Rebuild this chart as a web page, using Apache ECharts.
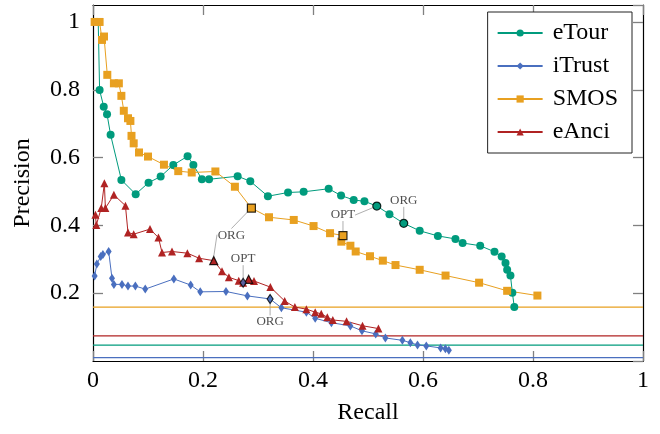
<!DOCTYPE html>
<html>
<head>
<meta charset="utf-8">
<script src="https://cdn.jsdelivr.net/npm/echarts@6/dist/echarts.min.js"></script>
<style>
html, body { margin: 0; padding: 0; background: #fff; }
#chart { width: 660px; height: 434px; }
</style>
</head>
<body>
<div id="chart"></div>
<script>
var names = ['eTour', 'iTrust', 'SMOS', 'eAnci'];

var eTourRecall = [0.0095, 0.012, 0.0195, 0.0255, 0.032, 0.0516, 0.0776, 0.101, 0.123, 0.146, 0.172, 0.1825, 0.198, 0.211, 0.263, 0.286, 0.318, 0.3546, 0.383, 0.4285, 0.451, 0.474, 0.4935, 0.516, 0.539, 0.565, 0.594, 0.627, 0.659, 0.672, 0.704, 0.730, 0.743, 0.750, 0.753, 0.759, 0.7625, 0.766];
var eTourPrecision = [1.0, 0.799, 0.750, 0.728, 0.667, 0.534, 0.492, 0.526, 0.544, 0.578, 0.604, 0.578, 0.536, 0.536, 0.545, 0.530, 0.486, 0.497, 0.499, 0.508, 0.488, 0.475, 0.471, 0.457, 0.433, 0.406, 0.384, 0.369, 0.360, 0.348, 0.340, 0.322, 0.308, 0.289, 0.269, 0.252, 0.201, 0.159];

var iTrustRecall = [0.003, 0.007, 0.014, 0.018, 0.0285, 0.0345, 0.038, 0.0527, 0.0636, 0.077, 0.095, 0.147, 0.1776, 0.195, 0.2418, 0.2807, 0.322, 0.3425, 0.388, 0.404, 0.4335, 0.468, 0.489, 0.514, 0.5316, 0.5625, 0.577, 0.59, 0.606, 0.632, 0.6407, 0.647];
var iTrustPrecision = [0.251, 0.286, 0.308, 0.314, 0.323, 0.244, 0.226, 0.226, 0.221, 0.221, 0.212, 0.242, 0.224, 0.204, 0.205, 0.192, 0.183, 0.157, 0.144, 0.126, 0.113, 0.1035, 0.089, 0.080, 0.068, 0.061, 0.054, 0.0475, 0.0445, 0.0386, 0.036, 0.032];

var smosRecall = [0.003, 0.012, 0.0164, 0.02, 0.026, 0.038, 0.047, 0.0516, 0.056, 0.0636, 0.068, 0.07, 0.074, 0.0836, 0.1, 0.129, 0.155, 0.1795, 0.2225, 0.258, 0.288, 0.32, 0.365, 0.401, 0.431, 0.4545, 0.4515, 0.468, 0.4776, 0.5036, 0.527, 0.55, 0.594, 0.641, 0.702, 0.753, 0.808];
var smosPrecision = [1.0, 1.0, 0.947, 0.957, 0.844, 0.819, 0.819, 0.782, 0.738, 0.716, 0.708, 0.664, 0.642, 0.615, 0.603, 0.579, 0.560, 0.556, 0.559, 0.514, 0.451, 0.424, 0.416, 0.398, 0.377, 0.370, 0.352, 0.340, 0.323, 0.309, 0.296, 0.283, 0.269, 0.252, 0.231, 0.207, 0.193];

var eAnciRecall = [0.0044, 0.006, 0.015, 0.0207, 0.0225, 0.038, 0.059, 0.0636, 0.074, 0.1036, 0.119, 0.1255, 0.1436, 0.1716, 0.193, 0.2195, 0.2345, 0.247, 0.265, 0.273, 0.283, 0.2927, 0.3225, 0.3485, 0.367, 0.388, 0.404, 0.415, 0.426, 0.436, 0.461, 0.490, 0.519];
var eAnciPrecision = [0.431, 0.401, 0.451, 0.524, 0.451, 0.490, 0.458, 0.379, 0.374, 0.389, 0.364, 0.320, 0.323, 0.318, 0.303, 0.296, 0.265, 0.247, 0.237, 0.231, 0.241, 0.236, 0.218, 0.177, 0.159, 0.153, 0.144, 0.139, 0.129, 0.121, 0.117, 0.104, 0.0956];

// random-guess precision of each project (same order as names)
var baselines = [0.047, 0.010, 0.159, 0.074];

// ORG / OPT points
var markSeries = [0, 0, 2, 2, 3, 3, 1, 1];
var markRecall = [0.565, 0.516, 0.4545, 0.288, 0.2195, 0.283, 0.273, 0.322];
var markPrecision = [0.406, 0.457, 0.370, 0.451, 0.296, 0.241, 0.231, 0.183];
var markText = ['ORG', 'OPT', 'OPT', 'ORG', 'ORG', '', 'OPT', 'ORG'];

var xMin = 0, xMax = 1;

var colors = ['#009B7D', '#4A6FBF', '#E8A020', '#B02323'];
var symbols = ['circle', 'diamond', 'rect', 'triangle'];
var symSizes = [8, [6, 9], 8, 8];
// label offset from its point, px; ghost = only draw the pin, text is drawn by another point
var pins = [
    {dx: 0, dy: -23}, {dx: -34, dy: 9, ghost: true}, {dx: 0, dy: -21}, {dx: -20, dy: 27},
    {dx: 17, dy: -26, ghost: true}, null, {dx: 0, dy: -24}, {dx: 0, dy: 23}
];
var font = 'Liberation Serif';

var curves = [
    [eTourRecall, eTourPrecision],
    [iTrustRecall, iTrustPrecision],
    [smosRecall, smosPrecision],
    [eAnciRecall, eAnciPrecision]
];

var series = [];
// baselines first so they sit under the curves
for (var b = 0; b < baselines.length; b++) {
    series.push({
        type: 'line',
        data: [[xMin, baselines[b]], [xMax, baselines[b]]],
        symbol: 'none',
        silent: true,
        lineStyle: {color: colors[b], width: 1.2},
        z: 2
    });
}
for (var i = 0; i < names.length; i++) {
    var pts = [];
    for (var j = 0; j < curves[i][0].length; j++) pts.push([curves[i][0][j], curves[i][1][j]]);
    series.push({
        name: names[i],
        type: 'line',
        data: pts,
        symbol: symbols[i],
        symbolSize: symSizes[i],
        showAllSymbol: true,
        color: colors[i],
        lineStyle: {width: 1, color: colors[i]},
        itemStyle: {color: colors[i]},
        z: 3
    });
}

for (var k = 0; k < markSeries.length; k++) {
    var s = markSeries[k];
    var pin = pins[k];
    series.push({
        type: 'scatter',
        data: [[markRecall[k], markPrecision[k]]],
        symbol: symbols[s],
        symbolSize: symSizes[s],
        itemStyle: {color: colors[s], borderColor: '#000', borderWidth: 1.2},
        z: 5,
        label: pin ? {
            show: true,
            position: 'inside',
            formatter: markText[k] || ' ',
            fontFamily: font,
            fontSize: 13,
            color: pin.ghost ? 'rgba(0,0,0,0)' : '#222'
        } : {show: false},
        labelLayout: pin ? {dx: pin.dx, dy: pin.dy} : undefined,
        labelLine: pin ? {show: true, lineStyle: {color: '#999', width: 0.8}} : undefined
    });
}

function axisLine() {
    return {show: true, onZero: false, lineStyle: {color: '#000', width: 1.2}};
}
function ticks() {
    return {show: true, inside: true, length: 10, lineStyle: {color: '#808080', width: 1.3}};
}

var chart = echarts.init(document.getElementById('chart'));
chart.setOption({
    animation: false,
    backgroundColor: '#fff',
    grid: {left: 93, right: 17, top: 5, bottom: 73},
    legend: {
        data: names,
        orient: 'vertical',
        right: 28,
        top: 12,
        padding: [9, 14, 9, 9],
        itemGap: 9,
        itemWidth: 45,
        itemHeight: 9,
        borderColor: '#222',
        borderWidth: 1,
        backgroundColor: '#fff',
        textStyle: {fontFamily: font, fontSize: 24, color: '#000', padding: [0, 0, 0, 5]}
    },
    xAxis: [{
        type: 'value', min: xMin, max: xMax, interval: 0.2,
        name: 'Recall', nameLocation: 'middle', nameGap: 40,
        nameTextStyle: {fontFamily: font, fontSize: 24, color: '#000'},
        axisLine: axisLine(),
        axisTick: ticks(),
        axisLabel: {fontFamily: font, fontSize: 24, color: '#000', margin: 8},
        splitLine: {show: false}
    }, {
        type: 'value', position: 'top', min: xMin, max: xMax, interval: 0.2,
        axisLine: axisLine(),
        axisTick: ticks(),
        axisLabel: {show: false},
        splitLine: {show: false}
    }],
    yAxis: [{
        type: 'value', min: 0, max: 1.05, interval: 0.2,
        name: 'Precision', nameLocation: 'middle', nameGap: 58,
        nameTextStyle: {fontFamily: font, fontSize: 24, color: '#000'},
        axisLine: axisLine(),
        axisTick: ticks(),
        axisLabel: {fontFamily: font, fontSize: 24, color: '#000', margin: 13, showMinLabel: false, showMaxLabel: false},
        splitLine: {show: false}
    }, {
        type: 'value', position: 'right', min: 0, max: 1.05, interval: 0.2,
        axisLine: axisLine(),
        axisTick: ticks(),
        axisLabel: {show: false},
        splitLine: {show: false}
    }],
    series: series
});
</script>
</body>
</html>
